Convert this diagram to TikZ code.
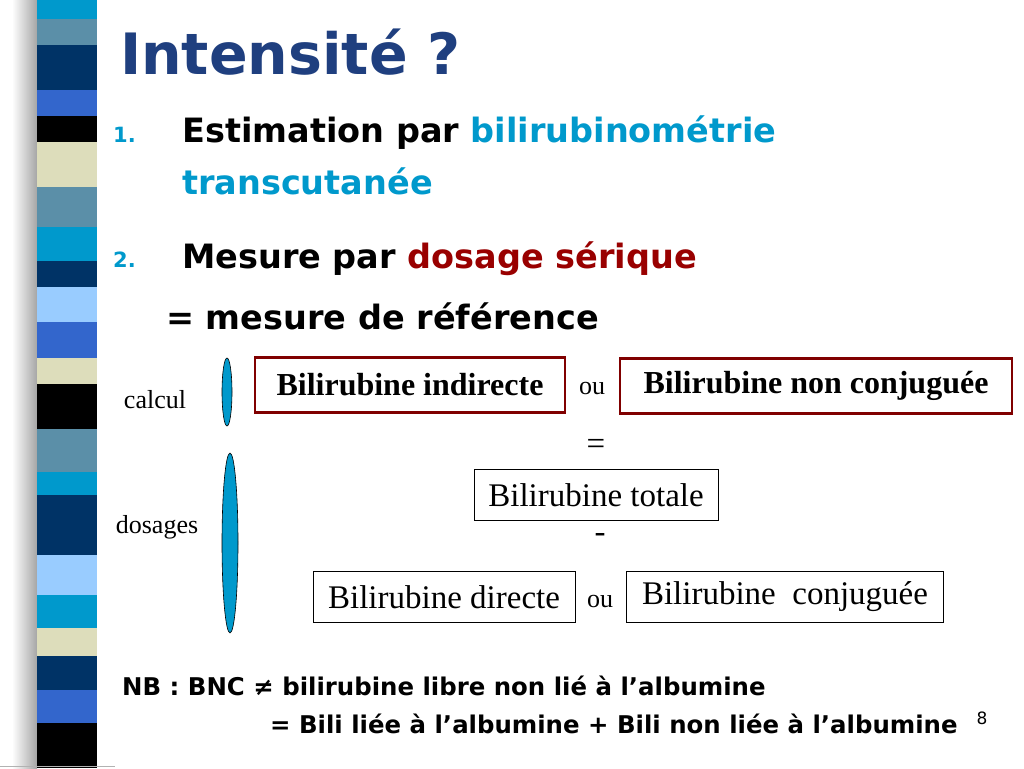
\documentclass[tikz,border=0pt]{standalone}
\usepackage{fontspec}
\setmainfont{Liberation Serif}
\newfontfamily\djfont{DejaVu Sans}
\begin{document}
\begin{tikzpicture}[x=1pt,y=-1pt,
  t/.style={font=\fontsize{33}{36}\selectfont, inner sep=4pt},
  bx/.style={t,draw=black,line width=0.8pt, minimum height=51pt},
  rb/.style={t,font=\fontsize{32}{36}\selectfont\bfseries,draw=red!50!black,line width=2.5pt, minimum height=55pt},
  sm/.style={font=\fontsize{26}{30}\selectfont, inner sep=0pt},
  hd/.style={font=\djfont\bfseries\fontsize{33.5}{38}\selectfont, anchor=west, inner sep=0pt},
  num/.style={font=\djfont\bfseries\fontsize{21}{24}\selectfont, text=tblue, anchor=west, inner sep=0pt},
  nb/.style={font=\djfont\bfseries\fontsize{24.4}{28}\selectfont, anchor=west, inner sep=0pt},
  ell/.style={draw=black, fill=tblue, line width=0.6pt}]
\definecolor{c1}{HTML}{0099CC}\definecolor{c2}{HTML}{5B8FA8}\definecolor{c3}{HTML}{003366}
\definecolor{c4}{HTML}{3366CC}\definecolor{c5}{HTML}{000000}\definecolor{c6}{HTML}{DDDDBB}
\definecolor{c7}{HTML}{99CCFF}\definecolor{tblue}{HTML}{0099CC}\definecolor{dred}{HTML}{990000}
\definecolor{ttl}{HTML}{1F3F7F}
\useasboundingbox (0,0) rectangle (1024,768);
\fill[white] (0,0) rectangle (1024,768);
\shade[left color=white, right color=gray!70] (12,0) rectangle (37,768);
\foreach \a/\b/\c in {0/19/c1,19/45/c2,45/90/c3,90/116/c4,116/142/c5,142/187/c6,187/227/c2,227/261/c1,261/287/c3,287/322/c7,322/358/c4,358/384/c6,384/429/c5,429/472/c2,472/495/c1,495/555/c3,555/595/c7,595/628/c1,628/656/c6,656/690/c3,690/723/c4,723/768/c5}
  \fill[\c] (37,\a) rectangle (97,\b);
\draw[gray!60, line width=1pt] (0,766) -- (115,766);
\node[font=\djfont\bfseries\fontsize{57}{64}\selectfont, text=ttl, anchor=west, inner sep=0pt] (title) at (120,52) {Intensité ?};
\node[num] (n1) at (113,135) {1.};
\node[hd] (l1) at (182,133) {Estimation par \textcolor{tblue}{bilirubinométrie}};
\node[hd, text=tblue] (l1b) at (182,181) {transcutanée};
\node[num] (n2) at (113,260) {2.};
\node[hd] (l2) at (182,259) {Mesure par \textcolor{dred}{dosage sérique}};
\node[hd] (l3) at (166,316) {= mesure de référence};
\node[sm] (calc) at (155,400) {calcul};
\node[sm] (dos) at (157,527) {dosages};
\draw[ell] (227,392) ellipse (5 and 34);
\draw[ell] (230,543) ellipse (8 and 90);
\node[rb, minimum width=310pt] (bi) at (410,385) {Bilirubine indirecte};
\node[sm] (ou1) at (592,388) {ou};
\node[rb, minimum width=392pt] (bnc) at (816,386) {Bilirubine non conjuguée};
\node[t] (eq) at (596,447) {=};
\node[bx, minimum width=244pt] (bt) at (596,495) {Bilirubine totale};
\node[t] (mn) at (600,538) {-};
\node[bx, minimum width=262pt] (bd) at (444,597) {Bilirubine directe};
\node[sm] (ou2) at (600,601) {ou};
\node[bx, minimum width=317pt] (bc) at (785,597) {Bilirubine\ \ conjuguée};
\node[nb] (nb1) at (122,686) {NB : BNC ≠ bilirubine libre non lié à l’albumine};
\node[nb] (nb2) at (270,724) {= Bili liée à l’albumine + Bili non liée à l’albumine};
\node[font=\djfont\fontsize{17}{20}\selectfont] (pg) at (982,718) {8};
\end{tikzpicture}
\end{document}
